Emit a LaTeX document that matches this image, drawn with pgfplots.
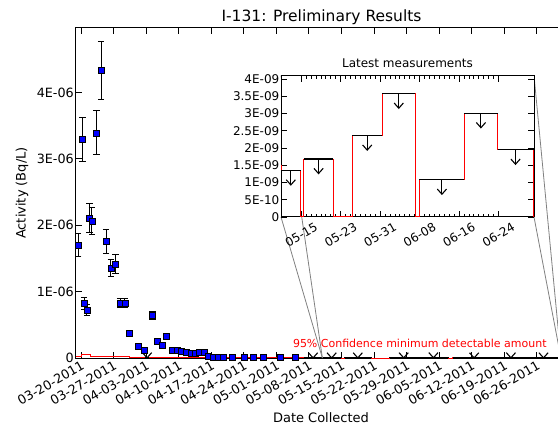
\documentclass[border=0pt]{standalone}
\usepackage{fontspec}
\setmainfont{DejaVu Sans}
\usepackage{pgfplots}
\pgfplotsset{compat=1.18}
\usepackage{pgfplotstable}
\usetikzlibrary{calc}

\pgfdeclareplotmark{caret}{%
  \pgfpathmoveto{\pgfpoint{-4.6bp}{5.2bp}}%
  \pgfpathlineto{\pgfpointorigin}%
  \pgfpathlineto{\pgfpoint{4.6bp}{5.2bp}}%
  \pgfusepathqstroke}

% day 0 = 03-20-2011
\pgfplotstableread{
x y e
-0.6 1.70e-6 0.17e-6
0.3 3.29e-6 0.33e-6
0.65 0.82e-6 0.09e-6
1.25 0.72e-6 0.08e-6
1.8 2.11e-6 0.22e-6
2.3 2.06e-6 0.20e-6
3.3 3.39e-6 0.33e-6
4.3 4.33e-6 0.43e-6
5.4 1.76e-6 0.18e-6
6.4 1.35e-6 0.13e-6
7.4 1.42e-6 0.14e-6
8.4 0.83e-6 0.07e-6
9.45 0.83e-6 0.07e-6
10.4 0.38e-6 0.03e-6
12.3 0.18e-6 0.02e-6
13.55 0.11e-6 0.01e-6
15.4 0.64e-6 0.06e-6
16.4 0.26e-6 0.02e-6
17.4 0.19e-6 0.02e-6
18.4 0.33e-6 0.03e-6
19.5 0.11e-6 0.01e-6
20.6 0.12e-6 0.01e-6
21.6 0.10e-6 0.01e-6
22.6 0.09e-6 0.01e-6
23.6 0.07e-6 0.01e-6
24.45 0.07e-6 0.01e-6
25.45 0.08e-6 0.01e-6
26.4 0.09e-6 0.01e-6
27.4 0.02e-6 0.002e-6
28.45 0.015e-6 0.002e-6
29.5 0.015e-6 0.002e-6
30.5 0.01e-6 0.001e-6
32.6 0.01e-6 0.001e-6
35.0 0.01e-6 0.001e-6
37.0 0.015e-6 0.002e-6
39.2 0.015e-6 0.002e-6
42.8 0.01e-6 0.001e-6
46.0 0.008e-6 0.001e-6
}\bluedata

\pgfplotstableread{
x y
-1.08 2.0e-8
0.15 5.0e-8
1.94 2.0e-8
10.5 1.0e-8
27.0 4.0e-9
47.9 1.5e-9
51.9 1.35e-9
55.88 0
56.55 1.68e-9
62.47 0
66.3 2.36e-9
72.45 3.575e-9
79.11 0
79.98 1.08e-9
89.07 3.01e-9
95.8 1.95e-9
103.1 0
104.5 0
}\mdadata

\pgfplotstableread{
x y
13.7 3.0e-9
14.7 3.0e-9
nan nan
47.9 1.5e-9
51.9 1.5e-9
nan nan
51.9 1.35e-9
55.88 1.35e-9
nan nan
56.55 1.68e-9
62.47 1.68e-9
nan nan
66.3 2.36e-9
72.45 2.36e-9
nan nan
72.45 3.575e-9
79.11 3.575e-9
nan nan
79.98 1.08e-9
89.07 1.08e-9
nan nan
89.07 3.01e-9
95.8 3.01e-9
nan nan
95.8 1.95e-9
103.1 1.95e-9
}\limsegs

\pgfplotstableread{
x y e
14.2 2.58e-9 4.2e-10
49.9 1.08e-9 4.2e-10
53.89 0.93e-9 4.2e-10
59.51 1.26e-9 4.2e-10
69.38 1.94e-9 4.2e-10
75.78 3.155e-9 4.2e-10
84.53 0.66e-9 4.2e-10
92.44 2.59e-9 4.2e-10
99.45 1.53e-9 4.2e-10
}\limarrows

\begin{document}
\begin{tikzpicture}
\begin{axis}[
  name=main, at={(0,0)}, anchor=south west,
  scale only axis, width=491bp, height=330bp,
  xmin=-1.08, xmax=104.5, ymin=0, ymax=4.97e-6,
  scaled y ticks=false, scaled x ticks=false,
  xtick={0,7,14,21,28,35,42,49,56,63,70,77,84,91,98},
  xticklabels={03-20-2011,03-27-2011,04-03-2011,04-10-2011,04-17-2011,04-24-2011,05-01-2011,05-08-2011,05-15-2011,05-22-2011,05-29-2011,06-05-2011,06-12-2011,06-19-2011,06-26-2011},
  xticklabel style={rotate=30, anchor=north east, inner sep=1.5bp, font=\fontsize{12.75bp}{15bp}\selectfont},
  ytick={0,1e-6,2e-6,3e-6,4e-6},
  yticklabels={0,1E-06,2E-06,3E-06,4E-06},
  yticklabel style={inner sep=2bp, font=\fontsize{12.75bp}{15bp}\selectfont},
  ytick pos=left,
  tick align=inside, major tick length=6bp,
  tick style={black, line width=0.8bp},
  axis line style={black, line width=1bp},
  unbounded coords=jump,
]
\addplot[red, line width=1bp, const plot mark left] table[x=x,y=y] {\mdadata};
\addplot[black, line width=1.2bp] table[x=x,y=y] {\limsegs};
\addplot[only marks, mark=caret, mark options={black, line width=1.1bp}] table[x=x,y=y] {\limarrows};
\addplot[only marks, mark=square*, mark size=3bp,
  mark options={fill=blue, draw=black, line width=0.4bp},
  error bars/.cd, y dir=both, y explicit,
  error bar style={black, line width=1bp},
  error mark options={rotate=90, black, line width=1bp, mark size=3.2bp}]
  table[x=x, y=y, y error=e] {\bluedata};
\node[anchor=east, inner sep=0pt, text=red, font=\fontsize{11bp}{13bp}\selectfont] at (rel axis cs:0.959,0.045) {95\% Confidence minimum detectable amount};
\coordinate (rl) at (axis cs:51.9,0);
\coordinate (rr) at (axis cs:103.2,0);
\end{axis}

\node[font=\fontsize{15.5bp}{18bp}\selectfont] at ($(main.north west)+(245.5bp,11bp)$) {I-131: Preliminary Results};
\node[rotate=90, font=\fontsize{13bp}{15bp}\selectfont] at ($(main.west)+(-54bp,0)$) {Activity (Bq/L)};
\node[font=\fontsize{13bp}{15bp}\selectfont] at ($(main.south west)+(245bp,-60bp)$) {Date Collected};

\coordinate (isw) at ($(main.south west)+(205bp,141bp)$);
\draw[gray, line width=0.8bp] (isw) -- (rl);
\draw[gray, line width=0.8bp] ($(isw)+(0,141.5bp)$) -- (rl);
\draw[gray, line width=0.8bp] ($(isw)+(253bp,0)$) -- (rr);
\draw[gray, line width=0.8bp] ($(isw)+(253bp,141.5bp)$) -- (rr);

\begin{axis}[
  name=inset, at={(isw)}, anchor=south west,
  scale only axis, width=253bp, height=141.5bp,
  axis background/.style={fill=white},
  xmin=51.9, xmax=103.2, ymin=0, ymax=4.104e-9,
  scaled y ticks=false, scaled x ticks=false,
  xtick={56,64,72,80,88,96},
  xticklabels={05-15,05-23,05-31,06-08,06-16,06-24},
  minor x tick num=7,
  xticklabel style={yshift=-18bp, rotate=30, anchor=center, font=\fontsize{12bp}{14bp}\selectfont},
  ytick={0,0.5e-9,1e-9,1.5e-9,2e-9,2.5e-9,3e-9,3.5e-9,4e-9},
  yticklabels={0,5E-10,1E-09,1.5E-09,2E-09,2.5E-09,3E-09,3.5E-09,4E-09},
  yticklabel style={inner sep=1.5bp, font=\fontsize{12bp}{14bp}\selectfont},
  tick align=inside, major tick length=6bp, minor tick length=3bp,
  tick style={black, line width=0.8bp},
  axis line style={black, line width=1bp},
  title={Latest measurements},
  title style={font=\fontsize{12bp}{14bp}\selectfont, yshift=-2bp},
  unbounded coords=jump,
]
\addplot[red, line width=1bp, const plot mark left] table[x=x,y=y] {\mdadata};
\addplot[black, line width=1.2bp] table[x=x,y=y] {\limsegs};
\addplot[only marks, mark=caret, mark options={black, line width=1.1bp},
  error bars/.cd, y dir=plus, y explicit,
  error bar style={black, line width=1.1bp}, error mark=none]
  table[x=x, y=y, y error=e] {\limarrows};
\end{axis}

\pgfresetboundingbox
\path[use as bounding box] ($(main.south west)+(-76bp,-72bp)$) rectangle ($(main.south west)+(482bp,358bp)$);
\end{tikzpicture}
\end{document}
